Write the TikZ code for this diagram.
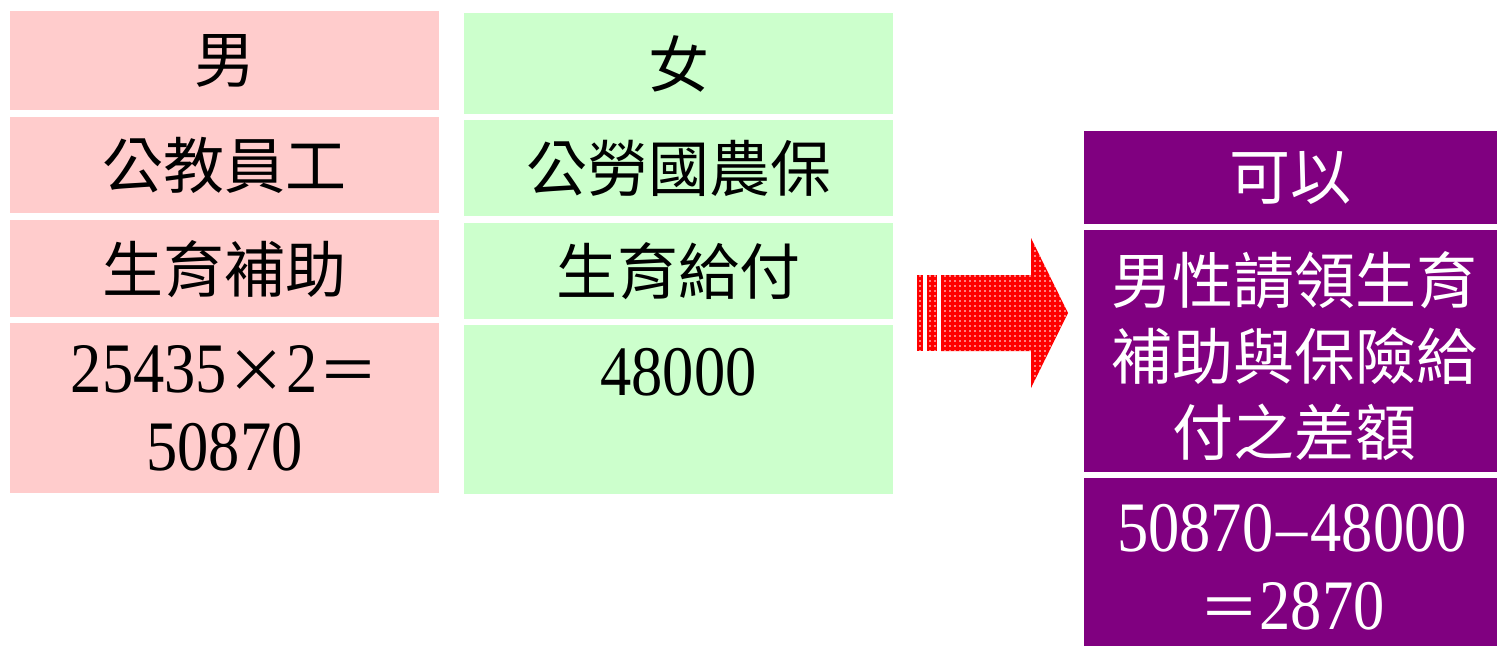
\documentclass[tikz,border=0pt]{standalone}
\usepackage{fontspec}
\newfontfamily\cjk{Noto Sans CJK TC}
\newfontfamily\num[FakeStretch=0.88]{Liberation Serif}
\usetikzlibrary{patterns}
\definecolor{pinkcell}{HTML}{FFCCCC}
\definecolor{greencell}{HTML}{CCFFCC}
\definecolor{purplecell}{HTML}{800080}
\pgfdeclarepatternformonly{arrowdots}{\pgfpoint{-1pt}{-1pt}}{\pgfpoint{1pt}{1pt}}{\pgfpoint{5pt}{5pt}}{\pgfpathcircle{\pgfpointorigin}{0.8pt}\pgfusepath{fill}}
\newcommand\fw[1]{{\cjk\fontsize{60}{80}\selectfont#1}}
\tikzset{
  cjktext/.style={font=\cjk\fontsize{61}{76}\selectfont, align=center, inner sep=0pt},
  numtext/.style={font=\num\fontsize{71}{78}\selectfont, align=center, inner sep=0pt},
}

\begin{document}
\begin{tikzpicture}[x=1pt,y=-1pt]
\useasboundingbox (0,0) rectangle (1497,646);
\begin{scope}[shift={(10,0)}]
\fill[pinkcell] (0,11) rectangle (429,110);
\fill[pinkcell] (0,117) rectangle (429,213);
\fill[pinkcell] (0,220) rectangle (429,317);
\fill[pinkcell] (0,323) rectangle (429,493);
\node[cjktext] (male) at (214.5,61) {男};
\node[cjktext] (maleins) at (214.5,165) {公教員工};
\node[cjktext] (malepay) at (214.5,269) {生育補助};
\node[numtext] (malesum) at (214.5,408) {25435\fw{×}2\fw{＝}\\50870};
\end{scope}
\begin{scope}[shift={(464,0)}]
\fill[greencell] (0,13) rectangle (429,114);
\fill[greencell] (0,120) rectangle (429,216);
\fill[greencell] (0,223) rectangle (429,319);
\fill[greencell] (0,325) rectangle (429,494);
\node[cjktext] (female) at (214.5,64) {女};
\node[cjktext] (femaleins) at (214.5,168) {公勞國農保};
\node[cjktext] (femalepay) at (214.5,271) {生育給付};
\node[numtext] (femalesum) at (214.5,372) {48000};
\end{scope}
\fill[red] (917,275) rectangle (923,351);
\fill[red] (927,275) rectangle (937,351);
\fill[red] (941,275) -- (1031,275) -- (1031,238) -- (1068,313) -- (1031,388) -- (1031,351) -- (941,351) -- cycle;
\fill[pattern=arrowdots, pattern color=white] (917,275) rectangle (923,351);
\fill[pattern=arrowdots, pattern color=white] (927,275) rectangle (937,351);
\fill[pattern=arrowdots, pattern color=white] (941,275) -- (1031,275) -- (1031,238) -- (1068,313) -- (1031,388) -- (1031,351) -- (941,351) -- cycle;
\begin{scope}[shift={(1084,0)}]
\fill[purplecell] (0,131) rectangle (413,224);
\fill[purplecell] (0,230) rectangle (413,472);
\fill[purplecell] (0,478) rectangle (413,646);
\node[cjktext, white] (can) at (206.5,178) {可以};
\node[cjktext, white] (diff) at (210,356) {男性請領生育\\補助與保險給\\付之差額};
\node[numtext, white] (diffsum) at (208,567) {50870\kern3pt–\kern3pt48000\\\fw{＝}2870};
\end{scope}
\end{tikzpicture}
\end{document}
